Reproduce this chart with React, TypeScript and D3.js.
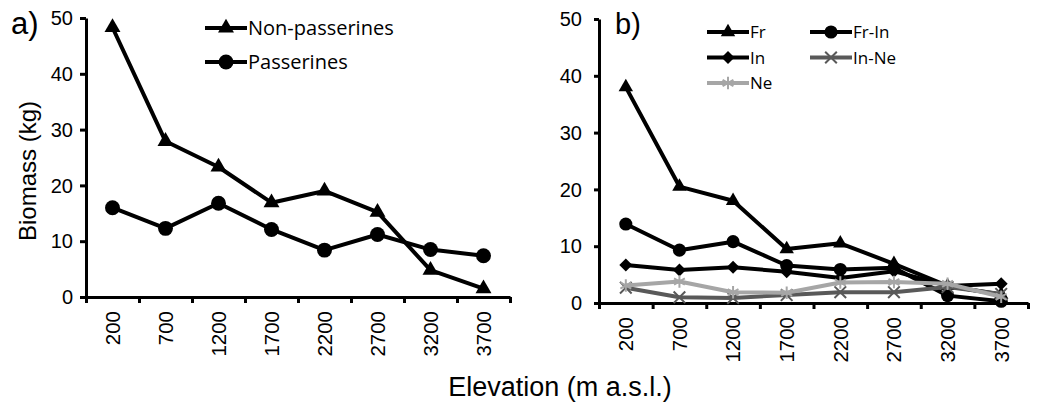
import React, { useRef, useEffect } from 'react';
import * as d3 from 'd3';

// elevation classes (m a.s.l.)
const categories = ['200', '700', '1200', '1700', '2200', '2700', '3200', '3700'];
const yTicks = [0, 10, 20, 30, 40, 50];

// panel a
const nonPasserines = [48.3, 27.9, 23.3, 16.9, 19.0, 15.2, 4.8, 1.5];
const passerines = [16.0, 12.3, 16.8, 12.1, 8.4, 11.2, 8.5, 7.4];

// panel b (feeding guilds)
const fr = [38.0, 20.5, 18.0, 9.5, 10.5, 6.9, 3.0, 1.5];
const frIn = [13.9, 9.3, 10.8, 6.6, 5.9, 6.2, 1.3, 0.3];
const insect = [6.7, 5.8, 6.3, 5.5, 4.4, 5.6, 3.0, 3.4];
const inNe = [2.7, 1.0, 0.9, 1.4, 1.9, 1.9, 2.8, 1.6];
const ne = [3.1, 3.8, 1.9, 1.8, 3.6, 3.7, 3.4, 1.1];

const AXIS_FONT = 'Liberation Sans, Arial, sans-serif';
const LEGEND_FONT = 'Open Sans, sans-serif';

function markerPath(kind, size) {
  if (kind === 'triangle') return d3.symbol(d3.symbolTriangle, size)();
  if (kind === 'circle') return d3.symbol(d3.symbolCircle, size)();
  if (kind === 'diamond') return d3.symbol(d3.symbolSquare, size)();
  if (kind === 'x') return d3.symbol(d3.symbolTimes, size)();
  return d3.symbol(d3.symbolAsterisk, size)();
}

function drawMarker(g, kind, x, y, color, size) {
  const stroked = kind === 'x' || kind === 'star';
  g.append('path')
    .attr('d', markerPath(kind, size))
    .attr('transform', `translate(${x},${y})${kind === 'diamond' ? ' rotate(45)' : ''}`)
    .attr('fill', stroked ? 'none' : color)
    .attr('stroke', color)
    .attr('stroke-width', stroked ? 2 : 0);
}

function drawPanel(svg, p) {
  const xIdx = d3.scaleLinear().domain([0, categories.length]).range(p.xRange);
  const x = d3.scaleBand().domain(categories).range(p.xRange);
  const y = d3.scaleLinear().domain([0, 50]).range(p.yRange);
  const cx = (c) => x(c) + x.bandwidth() / 2;

  // y axis
  const yAxis = svg.append('g').attr('transform', `translate(${p.xRange[0]},0)`)
    .call(d3.axisLeft(y).tickValues(yTicks).tickSize(p.tick).tickSizeOuter(0).tickFormat(() => ''));
  yAxis.select('.domain').attr('stroke-width', 3);
  yAxis.selectAll('.tick line').attr('stroke-width', 3);
  svg.append('g').selectAll('text').data(yTicks).enter().append('text')
    .attr('x', p.xRange[0] - p.yLabelGap)
    .attr('y', (d) => y(d))
    .attr('dy', '0.36em')
    .attr('text-anchor', 'end')
    .attr('font-family', AXIS_FONT)
    .attr('font-size', 20)
    .text((d) => d);

  // x axis, ticks between categories
  const xAxis = svg.append('g').attr('transform', `translate(0,${p.yRange[0]})`)
    .call(d3.axisBottom(xIdx).tickValues(d3.range(categories.length + 1))
      .tickSize(6).tickSizeOuter(0).tickFormat(() => ''));
  xAxis.select('.domain').attr('stroke-width', 3);
  xAxis.selectAll('.tick line').attr('stroke-width', 3);
  svg.append('g').selectAll('text').data(categories).enter().append('text')
    .attr('transform', (d) => `translate(${cx(d)},${p.yRange[0] + 14}) rotate(-90)`)
    .attr('dy', '0.36em')
    .attr('text-anchor', 'end')
    .attr('font-family', AXIS_FONT)
    .attr('font-size', 20.5)
    .text((d) => d);

  // series
  const line = d3.line().x((d, i) => cx(categories[i])).y((d) => y(d));
  p.series.forEach((s) => {
    svg.append('path').datum(s.values)
      .attr('d', line)
      .attr('fill', 'none')
      .attr('stroke', s.color)
      .attr('stroke-width', 4)
      .attr('stroke-linejoin', 'round');
    const g = svg.append('g');
    s.values.forEach((v, i) => drawMarker(g, s.marker, cx(categories[i]), y(v), s.color, s.size));
  });

  // legend
  p.series.forEach((s, i) => {
    const col = i % p.legend.cols;
    const row = Math.floor(i / p.legend.cols);
    const lx = p.legend.x + col * p.legend.colW;
    const ly = p.legend.y + row * p.legend.rowH;
    svg.append('line')
      .attr('x1', lx).attr('x2', lx + 42).attr('y1', ly).attr('y2', ly)
      .attr('stroke', s.color).attr('stroke-width', 4);
    drawMarker(svg.append('g'), s.marker, lx + 21, ly, s.color, s.size);
    svg.append('text')
      .attr('x', lx + 43).attr('y', ly).attr('dy', '0.36em')
      .attr('font-family', LEGEND_FONT)
      .attr('font-size', p.legend.font)
      .text(s.name);
  });

  svg.append('text')
    .attr('x', p.title.x).attr('y', p.title.y)
    .attr('font-family', AXIS_FONT)
    .attr('font-size', p.title.size)
    .text(p.title.text);
}

function Chart() {
  const ref = useRef(null);

  useEffect(() => {
    const svg = d3.select(ref.current);
    svg.selectAll('*').remove();

    drawPanel(svg, {
      xRange: [86, 510],
      yRange: [297, 18],
      tick: 6,
      yLabelGap: 13,
      title: { text: 'a)', x: 11, y: 34, size: 31 },
      legend: { x: 205, y: 28, cols: 1, colW: 0, rowH: 34, font: 20 },
      series: [
        { name: 'Non-passerines', values: nonPasserines, color: '#000', marker: 'triangle', size: 110 },
        { name: 'Passerines', values: passerines, color: '#000', marker: 'circle', size: 175 },
      ],
    });

    drawPanel(svg, {
      xRange: [599, 1028],
      yRange: [303, 19],
      tick: 5,
      yLabelGap: 17,
      title: { text: 'b)', x: 615, y: 34, size: 29 },
      legend: { x: 707, y: 32, cols: 2, colW: 103, rowH: 25.5, font: 17 },
      series: [
        { name: 'Fr', values: fr, color: '#000', marker: 'triangle', size: 90 },
        { name: 'Fr-In', values: frIn, color: '#000', marker: 'circle', size: 135 },
        { name: 'In', values: insect, color: '#000', marker: 'diamond', size: 85 },
        { name: 'In-Ne', values: inNe, color: '#595959', marker: 'x', size: 90 },
        { name: 'Ne', values: ne, color: '#a6a6a6', marker: 'star', size: 110 },
      ],
    });

    svg.append('text')
      .attr('transform', 'translate(36,171) rotate(-90)')
      .attr('text-anchor', 'middle')
      .attr('font-family', AXIS_FONT)
      .attr('font-size', 24)
      .text('Biomass (kg)');

    svg.append('text')
      .attr('x', 560).attr('y', 396)
      .attr('text-anchor', 'middle')
      .attr('font-family', AXIS_FONT)
      .attr('font-size', 27)
      .text('Elevation (m a.s.l.)');
  }, []);

  return (
    <svg ref={ref} width={1040} height={402}
      style={{ position: 'absolute', left: 0, top: 0, background: '#fff' }} />
  );
}

export default function App() {
  return <Chart />;
}
